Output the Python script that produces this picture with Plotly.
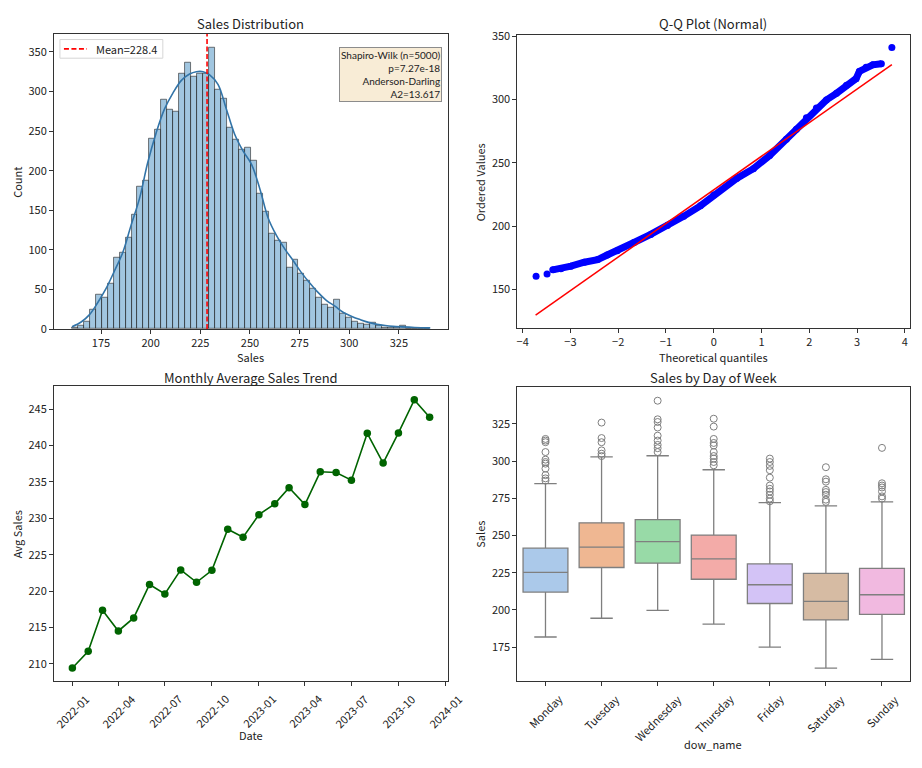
import pandas as pd
import plotly.graph_objects as go

# page body has a default 8px margin, so the figure is a bit smaller and offset
OFF = 8
W, H = 922 - OFF, 768 - OFF
FONT = "Noto Sans CJK JP"
INK = "#222222"

# --- Sales Distribution (histogram + kde) ---
hist_start = 160.3
hist_bin = 3.003
hist_counts = [2, 4, 10, 24, 44, 40, 58, 90, 97, 116,
               145, 180, 187, 240, 252, 290, 277, 275, 323, 337,
               319, 322, 322, 355, 302, 291, 254, 239, 227, 229,
               213, 171, 148, 120, 112, 109, 77, 88, 70, 61,
               51, 40, 31, 27, 37, 19, 15, 10, 7, 6,
               8, 4, 2, 2, 2, 4, 1, 1, 1, 1]
kde_x = [160.4, 165.0, 169.1, 173.0, 177.5, 181.5, 186.0, 190.0, 194.4, 198.5,
         202.8, 207.0, 211.2, 215.5, 219.6, 223.0, 226.4, 229.7, 233.9, 238.1,
         242.3, 246.5, 250.8, 255.0, 259.2, 263.4, 267.6, 271.9, 276.0, 280.2,
         284.4, 288.6, 292.8, 297.1, 301.3, 305.5, 309.7, 314.0, 318.1, 322.0,
         326.5, 333.0, 340.8]
kde_y = [3, 9, 18, 32, 51, 72, 97, 130, 165, 210,
         248, 278, 298, 314, 322, 325, 325, 321, 309, 278,
         246, 225, 208, 177, 140, 118, 101, 86, 71, 58,
         46, 36, 29, 21, 16, 12, 8.5, 6, 4.5, 3.5,
         2.8, 2.0, 1.5]
sales_mean = 228.4
hist_ymax = 373
stats_text = "Shapiro-Wilk (n=5000)<br>p=7.27e-18<br>Anderson-Darling<br>A2=13.617"

# --- Q-Q plot ---
qq_theo = [-3.72, -3.49, -3.37, -3.20, -2.99, -2.71, -2.43, -2.23, -2.02, -1.67,
           -1.32, -0.97, -0.63, -0.28, 0.0, 0.48, 0.83, 1.17, 1.52, 1.73,
           1.94, 2.15, 2.36, 2.57, 2.78, 2.98, 3.05, 3.19, 3.33, 3.51, 3.73]
qq_vals = [160.3, 162.1, 165.4, 166.2, 168.3, 171.4, 173.5, 177.1, 180.5, 187.0,
           193.4, 200.4, 207.7, 216.0, 224.5, 237.7, 245.4, 255.8, 268.7, 276.5,
           285.6, 293.3, 299.8, 305.0, 311.4, 316.6, 322.3, 325.7, 327.5, 328.3, 341.2]
qq_line_x = [-3.73, 3.73]
qq_line_y = [129.6, 327.7]

# --- Monthly average ---
months = pd.date_range("2022-01-01", periods=24, freq="MS")
monthly_avg = [209.4, 211.7, 217.35, 214.5, 216.3, 220.9, 219.6, 222.9, 221.2, 222.85,
               228.5, 227.4, 230.5, 232.0, 234.2, 231.9, 236.4, 236.3, 235.25, 241.7,
               237.6, 241.75, 246.3, 243.9]
date_ticks = pd.date_range("2022-01-01", "2024-01-01", freq="3MS")

# --- Sales by day of week ---
days = ["Monday", "Tuesday", "Wednesday", "Thursday", "Friday", "Saturday", "Sunday"]
box_q1 = [212.0, 228.5, 231.4, 220.6, 204.3, 193.3, 197.0]
box_med = [225.2, 242.2, 245.9, 234.3, 216.9, 205.8, 210.2]
box_q3 = [241.5, 258.5, 260.7, 250.3, 230.9, 224.6, 227.9]
box_lo = [181.8, 194.4, 199.7, 190.4, 175.0, 160.9, 166.8]
box_hi = [284.9, 302.8, 303.6, 294.2, 272.1, 269.9, 272.6]
box_out = [
    [314.9, 313.8, 312.7, 306.1, 301.0, 299.4, 298.3, 295.0, 290.6, 288.4, 286.9],
    [325.9, 315.5, 312.7, 307.2, 305.0, 303.4],
    [340.6, 328.1, 326.3, 322.6, 317.1, 313.8, 310.9, 308.7, 306.1],
    [328.5, 323.2, 314.9, 312.2, 310.5, 306.1, 303.4, 301.7, 299.4, 297.2],
    [301.7, 299.4, 296.8, 293.9, 288.9, 283.6, 281.4, 279.6, 277.4, 274.8, 273.0],
    [295.9, 287.8, 286.2, 280.7, 279.2, 277.4, 274.1, 272.6],
    [308.9, 285.1, 283.6, 282.3, 279.6, 276.3, 274.8],
]
# seaborn pastel at 0.75 saturation
box_colors = ["#abc9ea", "#efb792", "#98daa7", "#f3aba8", "#d3c3f6", "#d6bba3", "#f1b9e0"]
box_line = "#7f7f7f"


def px_x(p):
    return (p - OFF) / W


def px_y(p):
    return 1 - (p - OFF) / H


fig = go.Figure()

# histogram bars
centers = [hist_start + hist_bin * (i + 0.5) for i in range(len(hist_counts))]
fig.add_trace(go.Bar(x=centers, y=hist_counts, width=hist_bin,
                     marker=dict(color="rgba(31,119,180,0.42)",
                                 line=dict(color="rgba(45,45,45,0.8)", width=0.8)),
                     showlegend=False, xaxis="x", yaxis="y"))
fig.add_trace(go.Scatter(x=kde_x, y=kde_y, mode="lines", line=dict(color="#3274a8", width=1.6, shape="spline"),
                         showlegend=False, xaxis="x", yaxis="y"))
fig.add_trace(go.Scatter(x=[sales_mean, sales_mean], y=[0, hist_ymax], mode="lines",
                         line=dict(color="#ff0000", width=1.6, dash="5px,2.5px"),
                         showlegend=False, xaxis="x", yaxis="y"))

# Q-Q: dense middle of the sample drawn as a thick band, points on top
fig.add_trace(go.Scatter(x=qq_theo[2:-1], y=qq_vals[2:-1], mode="lines",
                         line=dict(color="#0000ff", width=7),
                         showlegend=False, xaxis="x2", yaxis="y2"))
fig.add_trace(go.Scatter(x=qq_theo, y=qq_vals, mode="markers",
                         marker=dict(color="#0000ff", size=7),
                         showlegend=False, xaxis="x2", yaxis="y2"))
fig.add_trace(go.Scatter(x=qq_line_x, y=qq_line_y, mode="lines", line=dict(color="#ff0000", width=1.5),
                         showlegend=False, xaxis="x2", yaxis="y2"))

# monthly trend
fig.add_trace(go.Scatter(x=months, y=monthly_avg, mode="lines+markers",
                         line=dict(color="#006400", width=1.6),
                         marker=dict(color="#006400", size=7.5),
                         showlegend=False, xaxis="x3", yaxis="y3"))

# boxes
for i, d in enumerate(days):
    fig.add_trace(go.Box(x=[d], q1=[box_q1[i]], median=[box_med[i]], q3=[box_q3[i]],
                         lowerfence=[box_lo[i]], upperfence=[box_hi[i]],
                         width=0.8, whiskerwidth=0.5, fillcolor=box_colors[i],
                         line=dict(color=box_line, width=1.3), boxpoints=False,
                         showlegend=False, xaxis="x4", yaxis="y4"))
out_x = [d for i, d in enumerate(days) for _ in box_out[i]]
out_y = [v for vals in box_out for v in vals]
fig.add_trace(go.Scatter(x=out_x, y=out_y, mode="markers",
                         marker=dict(symbol="circle-open", color=box_line, size=7, line=dict(width=1)),
                         showlegend=False, xaxis="x4", yaxis="y4"))

axis_style = dict(showline=True, mirror=True, linecolor="#333333", linewidth=1,
                  ticks="outside", ticklen=4, tickcolor="#333333", showgrid=False, zeroline=False,
                  tickfont=dict(size=11, color=INK, family=FONT))

fig.update_layout(
    width=W, height=H, margin=dict(l=0, r=0, t=0, b=0),
    paper_bgcolor="white", plot_bgcolor="white", bargap=0, showlegend=False,
    font=dict(family=FONT, color=INK, size=11),
    xaxis=dict(domain=[px_x(53), px_x(447)], range=[151.3, 349.5], anchor="y",
               tickvals=[175, 200, 225, 250, 275, 300, 325], **axis_style),
    yaxis=dict(domain=[px_y(328), px_y(27)], range=[0, hist_ymax], anchor="x",
               tickvals=[0, 50, 100, 150, 200, 250, 300, 350], **axis_style),
    xaxis2=dict(domain=[px_x(517), px_x(910)], range=[-4.11, 4.11], anchor="y2",
                tickvals=[-4, -3, -2, -1, 0, 1, 2, 3, 4],
                ticktext=["\u22124", "\u22123", "\u22122", "\u22121", "0", "1", "2", "3", "4"], **axis_style),
    yaxis2=dict(domain=[px_y(327), px_y(28)], range=[119.3, 351.4], anchor="x2",
                tickvals=[150, 200, 250, 300, 350], **axis_style),
    xaxis3=dict(domain=[px_x(53), px_x(447)], type="date", range=["2021-11-26", "2024-01-05"], anchor="y3",
                tickvals=list(date_ticks), showticklabels=False, **axis_style),
    yaxis3=dict(domain=[px_y(687), px_y(386)], range=[207.55, 248.2], anchor="x3",
                tickvals=[210, 215, 220, 225, 230, 235, 240, 245], **axis_style),
    xaxis4=dict(domain=[px_x(517), px_x(910)], type="category", range=[-0.5, 6.5], anchor="y4",
                categoryorder="array", categoryarray=days, showticklabels=False, **axis_style),
    yaxis4=dict(domain=[px_y(687), px_y(387)], range=[151.9, 349.8], anchor="x4",
                tickvals=[175, 200, 225, 250, 275, 300, 325], **axis_style),
)

# legend box for the mean line (drawn like matplotlib's small legend)
fig.add_shape(type="rect", xref="paper", yref="paper",
              x0=px_x(59), x1=px_x(162), y0=px_y(52), y1=px_y(33),
              line=dict(color="#d6d6d6", width=1), fillcolor="white", layer="above")
fig.add_shape(type="line", xref="paper", yref="paper",
              x0=px_x(63), x1=px_x(86), y0=px_y(42.5), y1=px_y(42.5),
              line=dict(color="#ff0000", width=1.6, dash="5px,2.5px"), layer="above")

ann = []


def label(text, x, y, size=11, angle=0, xanchor="center", yanchor="middle", family=FONT):
    ann.append(dict(text=text, x=px_x(x), y=px_y(y), xref="paper", yref="paper",
                    showarrow=False, font=dict(size=size, color=INK, family=family),
                    textangle=angle, xanchor=xanchor, yanchor=yanchor))


label("Mean=%.1f" % sales_mean, 93, 42.5, size=11, xanchor="left")
# titles
label("Sales Distribution", 250, 17, size=13)
label("Q-Q Plot (Normal)", 713, 17, size=13)
label("Monthly Average Sales Trend", 250, 377, size=13)
label("Sales by Day of Week", 713, 377, size=13)
# axis titles
label("Sales", 250, 356)
label("Count", 16, 178, angle=-90)
label("Theoretical quantiles", 713, 356)
label("Ordered Values", 479, 178, angle=-90)
label("Date", 250, 742)
label("Avg Sales", 16, 537, angle=-90)
label("dow_name", 713, 751)
label("Sales", 480, 537, angle=-90)

# rotated tick labels, centred under their ticks
for d in date_ticks:
    ann.append(dict(text=d.strftime("%Y-%m"), x=d, xref="x3", y=px_y(694), yref="paper",
                    showarrow=False, textangle=-45, xanchor="center", yanchor="top",
                    font=dict(size=11, color=INK, family=FONT)))
for d in days:
    ann.append(dict(text=d, x=d, xref="x4", y=px_y(694), yref="paper",
                    showarrow=False, textangle=-45, xanchor="center", yanchor="top",
                    font=dict(size=11, color=INK, family=FONT)))

# stats box
ann.append(dict(text=stats_text, x=px_x(441), y=px_y(41), xref="paper", yref="paper",
                showarrow=False, align="right", xanchor="right", yanchor="top",
                bgcolor="#f8ecd6", bordercolor="#8c8c8c", borderwidth=1, borderpad=1,
                font=dict(size=10, color=INK, family="Lato")))

fig.update_layout(annotations=ann)

fig.write_html("out.html")
